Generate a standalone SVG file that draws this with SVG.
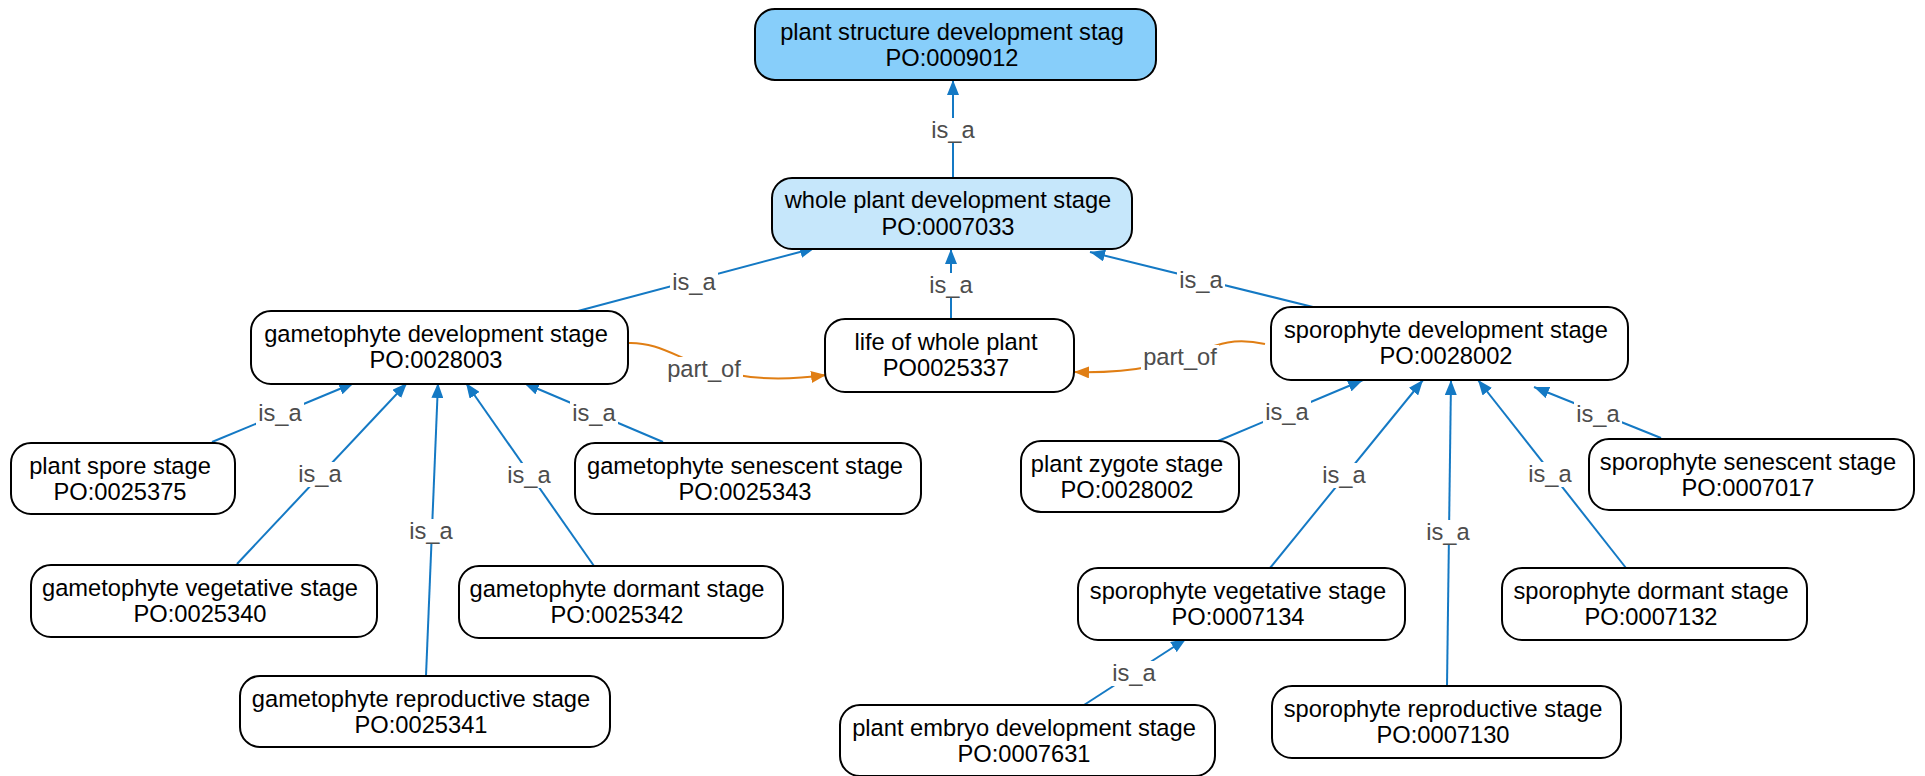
<svg xmlns="http://www.w3.org/2000/svg" width="1925" height="776" viewBox="0 0 1925 776">
<style>
.node rect{fill:#ffffff;stroke:#000000;stroke-width:2}
.node text{font-family:"Liberation Sans",Arial,sans-serif;font-size:23.7px;fill:#000000;text-anchor:middle}
.root rect{fill:#87CEFA}
.mid rect{fill:#C6E7FB}
.edge{fill:none;stroke-width:2}
.isa{stroke:#1479C4}
.partof{stroke:#E07E14}
.lbl rect{fill:#ffffff;stroke:none}
.lbl text{font-family:"Liberation Sans",Arial,sans-serif;font-size:23.7px;fill:#4d4d4d;text-anchor:middle}
</style>
<defs>
<marker id="ab" markerUnits="userSpaceOnUse" markerWidth="16" markerHeight="12" refX="15" refY="6" orient="auto"><path d="M0,0 L15,6 L0,12 z" fill="#1479C4"/></marker>
<marker id="ao" markerUnits="userSpaceOnUse" markerWidth="16" markerHeight="12" refX="15" refY="6" orient="auto"><path d="M0,0 L15,6 L0,12 z" fill="#E07E14"/></marker>
</defs>
<rect x="0" y="0" width="1925" height="776" fill="#ffffff"/>
<g id="connectors">
<path class="edge isa" marker-end="url(#ab)" d="M953,178 L953,80"/>
<path class="edge isa" marker-end="url(#ab)" d="M578,311 L815,248"/>
<path class="edge isa" marker-end="url(#ab)" d="M951,319 L951,249"/>
<path class="edge isa" marker-end="url(#ab)" d="M1313,307 L1090,252"/>
<path class="edge partof" marker-end="url(#ao)" d="M628,343 C680,341 700,392 826,375"/>
<path class="edge partof" marker-end="url(#ao)" d="M1265,344 C1200,330 1200,375 1074,372"/>
<path class="edge isa" marker-end="url(#ab)" d="M212,442 L354,383"/>
<path class="edge isa" marker-end="url(#ab)" d="M237,564 L407,383"/>
<path class="edge isa" marker-end="url(#ab)" d="M426,676 L438,383"/>
<path class="edge isa" marker-end="url(#ab)" d="M594,566 L466,383"/>
<path class="edge isa" marker-end="url(#ab)" d="M663,442 L524,383"/>
<path class="edge isa" marker-end="url(#ab)" d="M1218,441 L1363,380"/>
<path class="edge isa" marker-end="url(#ab)" d="M1270,568 L1423,380"/>
<path class="edge isa" marker-end="url(#ab)" d="M1447,686 L1451,380"/>
<path class="edge isa" marker-end="url(#ab)" d="M1626,568 L1478,380"/>
<path class="edge isa" marker-end="url(#ab)" d="M1661,438 L1534,387"/>
<path class="edge isa" marker-end="url(#ab)" d="M1084,705 L1186,639"/>
<g class="lbl">
<rect x="929" y="118" width="48" height="25"/><text x="953" y="138">is_a</text>
<rect x="670" y="270" width="48" height="25"/><text x="694" y="290">is_a</text>
<rect x="927" y="273" width="48" height="25"/><text x="951" y="293">is_a</text>
<rect x="1177" y="268" width="48" height="25"/><text x="1201" y="288">is_a</text>
<rect x="665" y="357" width="78" height="25"/><text x="704" y="377">part_of</text>
<rect x="1141" y="345" width="78" height="25"/><text x="1180" y="365">part_of</text>
<rect x="256" y="401" width="48" height="25"/><text x="280" y="421">is_a</text>
<rect x="296" y="462" width="48" height="25"/><text x="320" y="482">is_a</text>
<rect x="407" y="519" width="48" height="25"/><text x="431" y="539">is_a</text>
<rect x="505" y="463" width="48" height="25"/><text x="529" y="483">is_a</text>
<rect x="570" y="401" width="48" height="25"/><text x="594" y="421">is_a</text>
<rect x="1263" y="400" width="48" height="25"/><text x="1287" y="420">is_a</text>
<rect x="1320" y="463" width="48" height="25"/><text x="1344" y="483">is_a</text>
<rect x="1424" y="520" width="48" height="25"/><text x="1448" y="540">is_a</text>
<rect x="1526" y="462" width="48" height="25"/><text x="1550" y="482">is_a</text>
<rect x="1574" y="402" width="48" height="25"/><text x="1598" y="422">is_a</text>
<rect x="1110" y="661" width="48" height="25"/><text x="1134" y="681">is_a</text>
</g>
</g>
<g id="n_top" class="node root"><rect x="755" y="9" width="401" height="71" rx="20"/><text x="952" y="40">plant structure development stag</text><text x="952" y="66">PO:0009012</text></g>
<g id="n_whole" class="node mid"><rect x="772" y="178" width="360" height="71" rx="20"/><text x="948" y="208">whole plant development stage</text><text x="948" y="235">PO:0007033</text></g>
<g id="n_gameto" class="node"><rect x="251" y="311" width="377" height="73" rx="20"/><text x="436" y="342">gametophyte development stage</text><text x="436" y="368">PO:0028003</text></g>
<g id="n_life" class="node"><rect x="825" y="319" width="249" height="73" rx="20"/><text x="946" y="350">life of whole plant</text><text x="946" y="376">PO0025337</text></g>
<g id="n_sporo" class="node"><rect x="1271" y="307" width="357" height="73" rx="20"/><text x="1446" y="338">sporophyte development stage</text><text x="1446" y="364">PO:0028002</text></g>
<g id="n_spore" class="node"><rect x="11" y="443" width="224" height="71" rx="20"/><text x="120" y="474">plant spore stage</text><text x="120" y="500">PO:0025375</text></g>
<g id="n_gsen" class="node"><rect x="575" y="443" width="346" height="71" rx="20"/><text x="745" y="474">gametophyte senescent stage</text><text x="745" y="500">PO:0025343</text></g>
<g id="n_gveg" class="node"><rect x="31" y="565" width="346" height="72" rx="20"/><text x="200" y="596">gametophyte vegetative stage</text><text x="200" y="622">PO:0025340</text></g>
<g id="n_gdorm" class="node"><rect x="459" y="566" width="324" height="72" rx="20"/><text x="617" y="597">gametophyte dormant stage</text><text x="617" y="623">PO:0025342</text></g>
<g id="n_grep" class="node"><rect x="240" y="676" width="370" height="71" rx="20"/><text x="421" y="707">gametophyte reproductive stage</text><text x="421" y="733">PO:0025341</text></g>
<g id="n_zyg" class="node"><rect x="1021" y="441" width="218" height="71" rx="20"/><text x="1127" y="472">plant zygote stage</text><text x="1127" y="498">PO:0028002</text></g>
<g id="n_ssen" class="node"><rect x="1589" y="439" width="325" height="71" rx="20"/><text x="1748" y="470">sporophyte senescent stage</text><text x="1748" y="496">PO:0007017</text></g>
<g id="n_sveg" class="node"><rect x="1078" y="568" width="327" height="72" rx="20"/><text x="1238" y="599">sporophyte vegetative stage</text><text x="1238" y="625">PO:0007134</text></g>
<g id="n_sdorm" class="node"><rect x="1502" y="568" width="305" height="72" rx="20"/><text x="1651" y="599">sporophyte dormant stage</text><text x="1651" y="625">PO:0007132</text></g>
<g id="n_srep" class="node"><rect x="1272" y="686" width="349" height="72" rx="20"/><text x="1443" y="717">sporophyte reproductive stage</text><text x="1443" y="743">PO:0007130</text></g>
<g id="n_emb" class="node"><rect x="840" y="705" width="375" height="71" rx="20"/><text x="1024" y="736">plant embryo development stage</text><text x="1024" y="762">PO:0007631</text></g>
</svg>
